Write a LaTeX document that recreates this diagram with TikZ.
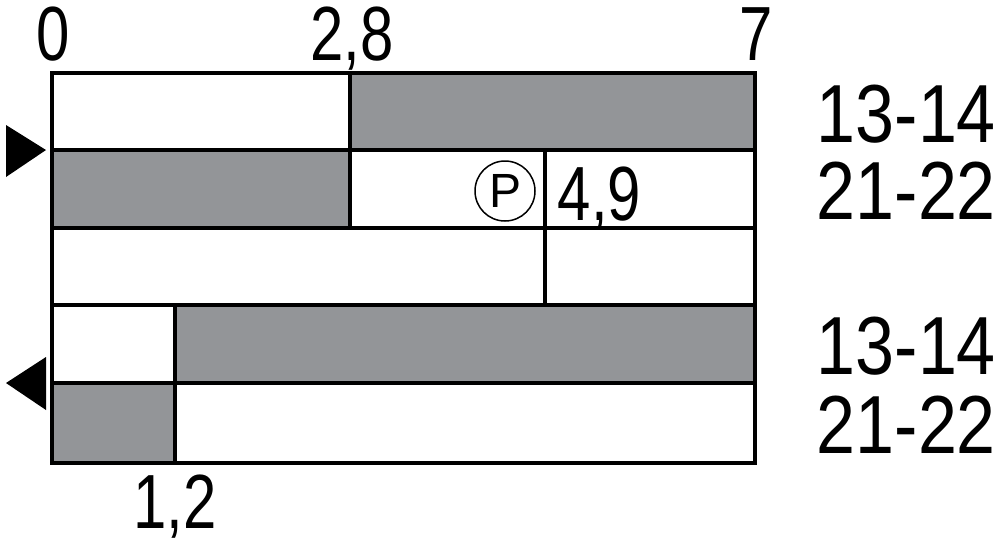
\documentclass[tikz,border=0pt]{standalone}
\usepackage{fontspec}
\newfontfamily\scalefont[FakeStretch=0.78]{Liberation Sans}
\newfontfamily\termfont[FakeStretch=0.85]{Liberation Sans}
\newfontfamily\markfont{Liberation Sans}
\definecolor{contactgray}{HTML}{939598}
\begin{document}
\begin{tikzpicture}[
      x=0.5pt, y=-0.5pt,
      line width=1.8pt,
      on/.style={fill=contactgray},
      scale label/.style={font=\scalefont\fontsize{38.4}{38.4}\selectfont, inner sep=0pt, anchor=base},
      term label/.style={font=\termfont\fontsize{41.2}{41.2}\selectfont, inner sep=0pt, anchor=base west},
      pointer/.style={fill=black, draw=none}
    ]
    \useasboundingbox (0,0) rectangle (1000,542);

    % Closed contact segments
    \draw[on] (350,73) rectangle (755,150);
    \draw[on] (52,150) rectangle (350,228);
    \draw[on] (175,305) rectangle (755,383);
    \draw[on] (52,383) rectangle (175,463);

    % Frame and row lines
    \draw (52,73) rectangle (755,463);
    \draw (52,150) -- (755,150);
    \draw (52,228) -- (755,228);
    \draw (52,305) -- (755,305);
    \draw (52,383) -- (755,383);
    \draw (350,73) -- (350,228);
    \draw (545,150) -- (545,305);
    \draw (175,305) -- (175,463);

    % Direction pointers
    \fill[pointer] (6,125) -- (46,150) -- (6,177) -- cycle;
    \fill[pointer] (46,357) -- (6,383) -- (46,410) -- cycle;

    % Scale values
    \node (zero) [scale label] at (53,60) {0};
    \node (twoeight) [scale label] at (352,60) {2,8};
    \node (seven) [scale label] at (756,60) {7};
    \node (fournine) [scale label, anchor=base west] at (556,220) {4,9};
    \node (onetwo) [scale label] at (175,528) {1,2};

    % Position mark
    \node (P) [circle, draw, line width=0.75pt, minimum size=30pt, inner sep=0pt,
      font=\markfont\fontsize{24}{24}\selectfont] at (505,191) {P};

    % Terminal labels
    \node (upA) [term label] at (815,142) {13-14};
    \node (upB) [term label] at (815,219) {21-22};
    \node (dnA) [term label] at (815,374) {13-14};
    \node (dnB) [term label] at (815,453) {21-22};

    \end{tikzpicture}
\end{document}
